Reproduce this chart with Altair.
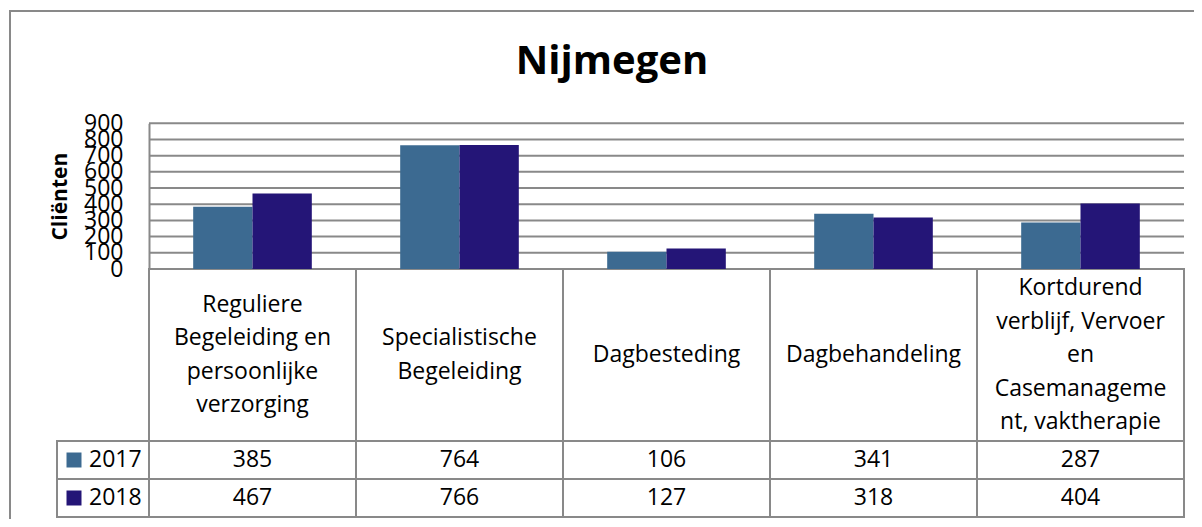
import altair as alt
import pandas as pd

# ---------------- data ----------------
categories = [
    "Reguliere Begeleiding en persoonlijke verzorging",
    "Specialistische Begeleiding",
    "Dagbesteding",
    "Dagbehandeling",
    "Kortdurend verblijf, Vervoer en Casemanagement, vaktherapie",
]
category_label_lines = [
    ["Reguliere", "Begeleiding en", "persoonlijke", "verzorging"],
    ["Specialistische", "Begeleiding"],
    ["Dagbesteding"],
    ["Dagbehandeling"],
    ["Kortdurend", "verblijf, Vervoer", "en", "Casemanageme", "nt, vaktherapie"],
]
years = ["2017", "2018"]
values_2017 = [385, 764, 106, 341, 287]
values_2018 = [467, 766, 127, 318, 404]
y_ticks = [0, 100, 200, 300, 400, 500, 600, 700, 800, 900]

# ---------------- style ----------------
bar_colors = ["#3C6A91", "#241577"]
LINE = "#898989"
FONT = "Open Sans"
FS = 23
LINE_H = 33.5

bars_df = pd.DataFrame({
    "cat": categories * 2,
    "year": [years[0]] * len(categories) + [years[1]] * len(categories),
    "value": values_2017 + values_2018,
})
hdr_df = pd.DataFrame({"cat": categories, "row": "hdr"})
line_rows = []
for cat, lines in zip(categories, category_label_lines):
    n = len(lines)
    for i, t in enumerate(lines):
        line_rows.append({"cat": cat, "line": t, "pos": i - (n - 1) / 2})
lines_df = pd.DataFrame(line_rows)
grid_df = pd.DataFrame({"tick": y_ticks, "x0": categories[0], "x1": categories[-1]})
legend_df = pd.DataFrame({"year": years, "col": "legend"})

# scales (pixel ranges inside the framed view)
HDR_TOP, HDR_BOT = 258, 430
HDR_MID = (HDR_TOP + HDR_BOT) / 2
X_CAT = alt.Scale(domain=categories, range=[139, 1174], paddingInner=0, paddingOuter=0)
X_LEG = alt.Scale(domain=["legend"], range=[47, 139], paddingInner=0, paddingOuter=0)
X_SYM = alt.Scale(domain=["legend"], range=[47, 81], paddingInner=0, paddingOuter=0)
X_LBL = alt.Scale(domain=["legend"], range=[79, 79], paddingInner=0, paddingOuter=0)
Y_VAL = alt.Scale(domain=[0, 900], range=[258, 112.3], nice=False, zero=True)
Y_HDR = alt.Scale(domain=["hdr"], range=[HDR_TOP, HDR_BOT], paddingInner=0, paddingOuter=0)
Y_LINE = alt.Scale(domain=[-2.5, 2.5], range=[HDR_MID - 2.5 * LINE_H, HDR_MID + 2.5 * LINE_H],
                   nice=False, zero=False)
Y_ROW = alt.Scale(domain=years, range=[430, 506], paddingInner=0, paddingOuter=0)
COLOR = alt.Scale(domain=years, range=bar_colors)

hdr_cells = alt.Chart(hdr_df).mark_rect(fill="white", stroke=LINE, strokeWidth=2).encode(
    x=alt.X("cat:N", scale=X_CAT, axis=None),
    y=alt.Y("row:N", scale=Y_HDR, axis=None),
)
row_cells = alt.Chart(bars_df).mark_rect(fill="white", stroke=LINE, strokeWidth=2).encode(
    x=alt.X("cat:N", scale=X_CAT, axis=None),
    y=alt.Y("year:N", scale=Y_ROW, axis=None),
)
leg_cells = alt.Chart(legend_df).mark_rect(fill="white", stroke=LINE, strokeWidth=2).encode(
    x=alt.X("col:N", scale=X_LEG, axis=None),
    y=alt.Y("year:N", scale=Y_ROW, axis=None),
)
grid = alt.Chart(grid_df).mark_rule(color=LINE, strokeWidth=2).encode(
    x=alt.X("x0:N", scale=X_CAT, bandPosition=0, axis=None),
    x2=alt.X2("x1", bandPosition=1),
    y=alt.Y("tick:Q", scale=Y_VAL, axis=None),
)
bars = alt.Chart(bars_df).mark_bar().encode(
    x=alt.X("cat:N", scale=X_CAT, axis=None, sort=categories),
    xOffset=alt.XOffset("year:N", scale=alt.Scale(domain=years, paddingInner=0, paddingOuter=0.745)),
    y=alt.Y(
        "value:Q",
        scale=Y_VAL,
        axis=alt.Axis(
            values=y_ticks, title="Cliënten", offset=-139, grid=False, ticks=False, tickSize=0,
            domain=True, domainColor=LINE, domainWidth=2,
            labelFont=FONT, labelFontSize=FS, labelColor="black", labelPadding=26,
            labelOverlap=False, labelFlush=False, format="d",
            titleFont=FONT, titleFontSize=21, titleFontWeight="bold", titleColor="black",
            titlePadding=13,
        ),
    ),
    color=alt.Color("year:N", scale=COLOR, legend=None),
)
hdr_text = alt.Chart(lines_df).mark_text(
    font=FONT, fontSize=FS, baseline="middle", align="center", color="black"
).encode(
    x=alt.X("cat:N", scale=X_CAT, axis=None),
    y=alt.Y("pos:Q", scale=Y_LINE, axis=None),
    text="line:N",
)
val_text = alt.Chart(bars_df).mark_text(
    font=FONT, fontSize=FS, baseline="middle", align="center", color="black"
).encode(
    x=alt.X("cat:N", scale=X_CAT, axis=None),
    y=alt.Y("year:N", scale=Y_ROW, axis=None),
    text=alt.Text("value:Q", format="d"),
)
leg_sym = alt.Chart(legend_df).mark_point(shape="square", size=225, filled=True, opacity=1).encode(
    x=alt.X("col:N", scale=X_SYM, axis=None),
    y=alt.Y("year:N", scale=Y_ROW, axis=None),
    color=alt.Color("year:N", scale=COLOR, legend=None),
)
leg_text = alt.Chart(legend_df).mark_text(
    font=FONT, fontSize=FS, baseline="middle", align="left", color="black"
).encode(
    x=alt.X("col:N", scale=X_LBL, axis=None),
    y=alt.Y("year:N", scale=Y_ROW, axis=None),
    text="year:N",
)

chart = alt.layer(
    hdr_cells, row_cells, leg_cells, grid, bars, hdr_text, val_text, leg_sym, leg_text
).resolve_scale(
    x="independent", y="independent"
).properties(
    width=1204,
    height=528,
    autosize="none",
    padding={"left": 2, "top": 3, "right": -20, "bottom": -20},
    title=alt.Title(
        "Nijmegen", font=FONT, fontSize=40, fontWeight="bold", color="black",
        anchor="middle", frame="group", baseline="alphabetic", offset=-103,
    ),
).configure(
    font=FONT,
).configure_view(
    stroke=LINE, strokeWidth=2,
)

chart.save("out.html", embed_options={"renderer": "svg", "actions": False})
